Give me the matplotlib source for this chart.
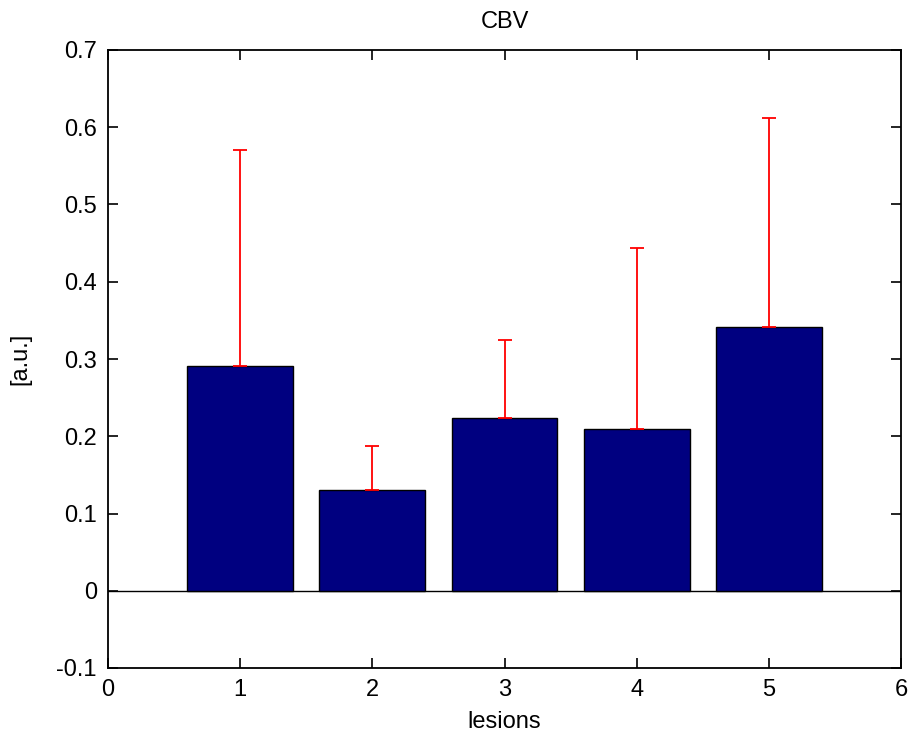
import numpy as np
import matplotlib.pyplot as plt

# CBV per lesion (mean and upper error)
lesions = [1, 2, 3, 4, 5]
cbv_mean = [0.291, 0.130, 0.223, 0.210, 0.342]
cbv_err_upper = [0.280, 0.057, 0.101, 0.234, 0.270]

plt.rcParams['font.family'] = ['Liberation Sans', 'DejaVu Sans']

fig = plt.figure(figsize=(9.13, 7.43), dpi=100)
ax = fig.add_axes([108 / 913, 1 - 668 / 743, (901 - 108) / 913, (668 - 50) / 743])

ax.bar(lesions, cbv_mean, width=0.8, color='#000080', edgecolor='black',
       linewidth=1.0, zorder=2)
ax.errorbar(lesions, cbv_mean, yerr=[np.zeros(len(lesions)), cbv_err_upper],
            fmt='none', ecolor='red', elinewidth=1.3, capsize=5, capthick=1.3,
            zorder=3)
ax.axhline(0, color='black', linewidth=1.0, zorder=1)

ax.set_xlim(0, 6)
ax.set_ylim(-0.1, 0.7)
ax.set_xticks(np.arange(0, 7, 1))
ax.set_yticks(np.arange(-0.1, 0.71, 0.1))
ax.set_yticklabels(['-0.1', '0', '0.1', '0.2', '0.3', '0.4', '0.5', '0.6', '0.7'])
ax.tick_params(direction='in', length=7, width=1.2, labelsize=17,
               top=True, right=True, pad=8)
for spine in ax.spines.values():
    spine.set_linewidth(1.3)

ax.set_title('CBV', fontsize=17, pad=16)
ax.set_xlabel('lesions', fontsize=17, labelpad=7)
ax.set_ylabel('[a.u.]', fontsize=17, labelpad=18)

fig.savefig('out.png', dpi=100)
